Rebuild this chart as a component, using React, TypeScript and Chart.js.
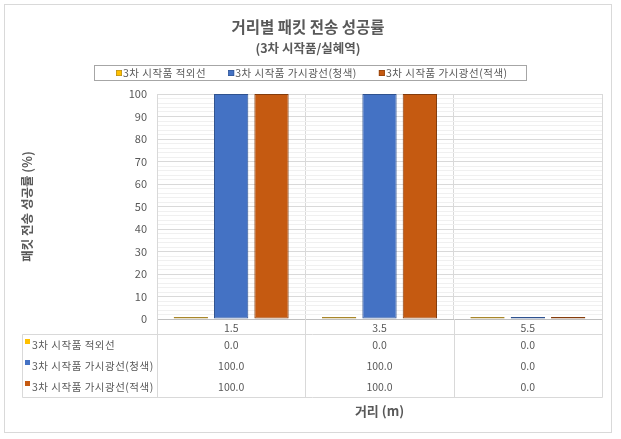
import React, { useEffect, useRef } from 'react';
import { Chart, registerables } from 'chart.js';

Chart.register(...registerables);

// ---- data ----
const categories = ['1.5', '3.5', '5.5'];
const seriesNames = ['3차 시작품 적외선', '3차 시작품 가시광선(청색)', '3차 시작품 가시광선(적색)'];
const infraredValues = [0, 0, 0];
const visibleBlueValues = [100, 100, 0];
const visibleRedValues = [100, 100, 0];
const yMin = 0;
const yMax = 100;
const yMajorStep = 10;
const yMinorStep = 2;

const titleText = '거리별 패킷 전송 성공률';
const subtitleText = '(3차 시작품/실혜역)';
const yAxisTitle = '패킷 전송 성공률 (%)';
const xAxisTitle = '거리 (m)';

// ---- styles ----
const FONT = '"Noto Sans CJK KR", "Noto Sans", sans-serif';
const TEXT = '#595959';
const LINE = '#d9d9d9';
const fills = ['#FFC000', '#4472C4', '#C55A11'];
const borders = ['#A8862A', '#2F528F', '#843C0C'];

const decorPlugin = {
  id: 'decor',
  beforeDraw(chart: any) {
    const ctx = chart.ctx;
    ctx.save();
    ctx.fillStyle = '#ffffff';
    ctx.fillRect(0, 0, chart.width, chart.height);
    ctx.strokeStyle = LINE;
    ctx.lineWidth = 1;
    ctx.strokeRect(4.5, 4.5, 607, 428);
    ctx.restore();
  },
  afterDraw(chart: any) {
    const ctx = chart.ctx;
    const area = chart.chartArea;
    const xs = chart.scales.x;
    const ds = chart.data.datasets;
    ctx.save();

    // legend
    ctx.font = `10.5px ${FONT}`;
    (ctx as any).letterSpacing = '0.5px';
    ctx.textBaseline = 'middle';
    ctx.textAlign = 'left';
    const legTop = 65.5, legBottom = 80.5, legLeft = 94.5, legRight = 526.5;
    ctx.strokeStyle = '#a6a6a6';
    ctx.lineWidth = 1;
    ctx.strokeRect(legLeft, legTop, legRight - legLeft, legBottom - legTop);
    let lx = 116;
    const ly = 73;
    ds.forEach((d: any, i: number) => {
      ctx.fillStyle = fills[i];
      ctx.fillRect(lx, ly - 3, 6, 6);
      ctx.strokeStyle = borders[i];
      ctx.lineWidth = 0.6;
      ctx.strokeRect(lx + 0.3, ly - 2.7, 5.4, 5.4);
      ctx.fillStyle = TEXT;
      ctx.fillText(d.label, lx + 7, ly);
      lx += 7 + ctx.measureText(d.label).width + 22;
    });

    // data table
    ctx.lineWidth = 1;
    ctx.strokeStyle = LINE;
    const tableLeft = 22.5;
    const tableTop = 334.5;
    const rowH = 21;
    const tableBottom = tableTop + rowH * ds.length;
    const n = categories.length;
    const w = (area.right - area.left) / n;
    ctx.beginPath();
    ctx.moveTo(tableLeft, tableTop);
    ctx.lineTo(Math.round(area.right) + 0.5, tableTop);
    ctx.moveTo(tableLeft, tableBottom);
    ctx.lineTo(Math.round(area.right) + 0.5, tableBottom);
    ctx.moveTo(tableLeft, tableTop);
    ctx.lineTo(tableLeft, tableBottom);
    for (let i = 0; i <= n; i++) {
      const bx = Math.round(area.left + i * w) + 0.5;
      ctx.moveTo(bx, area.bottom);
      ctx.lineTo(bx, tableBottom);
    }
    ctx.stroke();

    ctx.font = `10.5px ${FONT}`;
    ds.forEach((d: any, r: number) => {
      const cy = tableTop + rowH * (r + 0.5);
      ctx.fillStyle = fills[r];
      ctx.fillRect(25, cy - 6, 5, 5);
      ctx.fillStyle = TEXT;
      ctx.textAlign = 'left';
      (ctx as any).letterSpacing = '0.5px';
      ctx.fillText(d.label, 32, cy);
      (ctx as any).letterSpacing = '0px';
      ctx.textAlign = 'center';
      d.data.forEach((v: number, i: number) => {
        ctx.fillText(v.toFixed(1), xs.getPixelForValue(i), cy);
      });
    });
    ctx.restore();
  },
};

export default function App() {
  const ref = useRef<HTMLCanvasElement | null>(null);
  useEffect(() => {
    if (!ref.current) return;
    const values = [infraredValues, visibleBlueValues, visibleRedValues];
    const chart = new Chart(ref.current, {
      type: 'bar',
      data: {
        labels: categories,
        datasets: values.map((vals, i) => ({
          label: seriesNames[i],
          data: vals,
          backgroundColor: fills[i],
          borderColor: borders[i],
          borderWidth: 1,
          borderSkipped: false,
          minBarLength: 2,
          categoryPercentage: 0.816,
          barPercentage: 0.85,
        })),
      },
      options: {
        responsive: false,
        animation: false,
        layout: { padding: { left: 14, right: 19, top: 0, bottom: 0 } },
        plugins: {
          legend: { display: false },
          tooltip: { enabled: false },
          title: {
            display: true,
            text: titleText,
            color: TEXT,
            font: { family: FONT, size: 15.5, weight: 'bold' },
            padding: { top: 17.5, bottom: 2 },
          },
          subtitle: {
            display: true,
            text: subtitleText,
            color: TEXT,
            font: { family: FONT, size: 12.5, weight: 'bold' },
            padding: { top: 2.5, bottom: 38.4 },
          },
        },
        scales: {
          x: {
            afterFit(scale: any) { scale.height = 120; },
            ticks: { padding: 3, color: TEXT, font: { family: FONT, size: 10.5 } },
            grid: { offset: true, drawTicks: false, color: LINE },
            border: { color: '#bfbfbf' },
            title: {
              display: true,
              text: xAxisTitle,
              color: TEXT,
              font: { family: FONT, size: 13, weight: 'bold' },
              padding: { top: 0, bottom: 20 },
            },
          },
          y: {
            min: yMin,
            max: yMax,
            afterFit(scale: any) { scale.width = 143; },
            ticks: {
              stepSize: yMinorStep,
              autoSkip: false,
              maxTicksLimit: 1000,
              padding: 10,
              color: TEXT,
              font: { family: FONT, size: 11 },
              callback: (v: any) => (Number(v) % yMajorStep === 0 ? String(v) : ''),
            },
            grid: {
              drawTicks: false,
              color: (c: any) => (c.tick && c.tick.value % yMajorStep === 0 ? LINE : '#f0f0f0'),
            },
            border: { color: LINE },
            title: {
              display: true,
              text: yAxisTitle,
              color: TEXT,
              font: { family: FONT, size: 12.5, weight: 'bold' },
              padding: { top: 6, bottom: 0 },
            },
          },
        },
      } as any,
      plugins: [decorPlugin],
    });
    return () => chart.destroy();
  }, []);
  return (
    <div style={{ position: 'fixed', left: 0, top: 0, width: 621, height: 439, background: '#fff' }}>
      <canvas ref={ref} width={621} height={439} style={{ display: 'block' }} />
    </div>
  );
}
